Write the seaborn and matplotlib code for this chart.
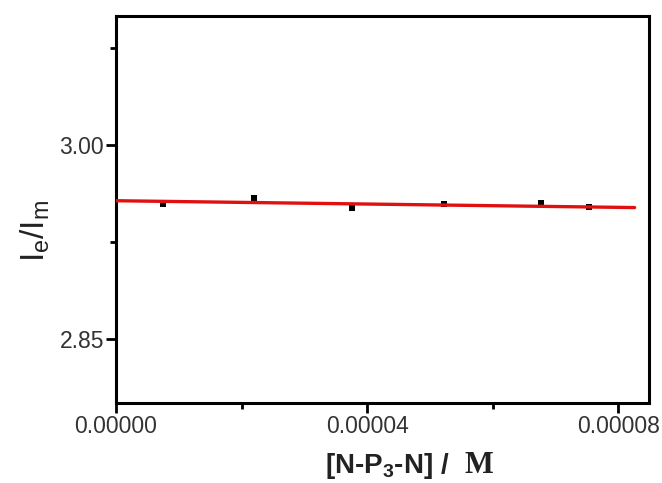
import matplotlib
matplotlib.use("Agg")
import matplotlib.pyplot as plt
import seaborn as sns
import pandas as pd
from matplotlib.ticker import FixedLocator

# Data
conc = [7.5e-6, 2.2e-5, 3.76e-5, 5.22e-5, 6.77e-5, 7.53e-5]
ratio = [2.954, 2.959, 2.951, 2.954, 2.955, 2.952]
fit_x = [0.0, 8.26e-5]
fit_y = [2.9568, 2.9515]

x_major = [0.0, 4e-5, 8e-5]
x_minor = [2e-5, 6e-5]
x_labels = ["0.00000", "0.00004", "0.00008"]
y_major = [2.85, 3.00]
y_minor = [2.925, 3.075]
y_labels = ["2.85", "3.00"]

sns.set_style("ticks")
plt.rcParams['font.family'] = ['Liberation Sans', 'DejaVu Sans']
plt.rcParams['mathtext.fontset'] = 'custom'
plt.rcParams['mathtext.rm'] = 'Liberation Sans'
plt.rcParams['mathtext.it'] = 'Liberation Sans'
plt.rcParams['mathtext.bf'] = 'Liberation Sans:bold'

fig = plt.figure(figsize=(6.62, 4.83), dpi=100)
ax = fig.add_axes([116/662, 1-403/483, (649-116)/662, (403-16)/483])

df = pd.DataFrame({"x": conc, "y": ratio})
sns.scatterplot(data=df, x="x", y="y", ax=ax, marker="s", s=22, color="black",
                edgecolor="black", linewidth=0, zorder=2)
fit = pd.DataFrame({"x": fit_x, "y": fit_y})
sns.lineplot(data=fit, x="x", y="y", ax=ax, color="#e01010", linewidth=2.4, zorder=3)

ax.set_xlim(0, 8.49e-5)
ax.set_ylim(2.80, 3.10)
ax.set_xticks(x_major)
ax.set_xticklabels(x_labels)
ax.xaxis.set_minor_locator(FixedLocator(x_minor))
ax.set_yticks(y_major)
ax.set_yticklabels(y_labels)
ax.yaxis.set_minor_locator(FixedLocator(y_minor))

for s in ax.spines.values():
    s.set_visible(True)
    s.set_linewidth(2.2)
    s.set_color("black")
ax.tick_params(which="major", direction="out", length=7, width=2, colors="black",
               labelsize=16.5, labelcolor="#333333", pad=1.5)
ax.tick_params(which="minor", direction="out", length=4.5, width=2, colors="black")

ax.set_xlabel("")
fig.text(450/662, 1-473/483, r"[N-P$_\mathbf{3}$-N] /", fontsize=20, fontweight="bold",
         ha="right", va="baseline", color="#222222")
fig.text(464/662, 1-473/483, "M", fontsize=22, family="Liberation Serif",
         fontweight="bold", ha="left", va="baseline", color="#222222")
ax.set_ylabel(r"I$_\mathrm{e}$/I$_\mathrm{m}$", fontsize=24, color="#222222")
ax.yaxis.set_label_coords(-0.12, 0.446)

fig.savefig("out.png", dpi=100)
